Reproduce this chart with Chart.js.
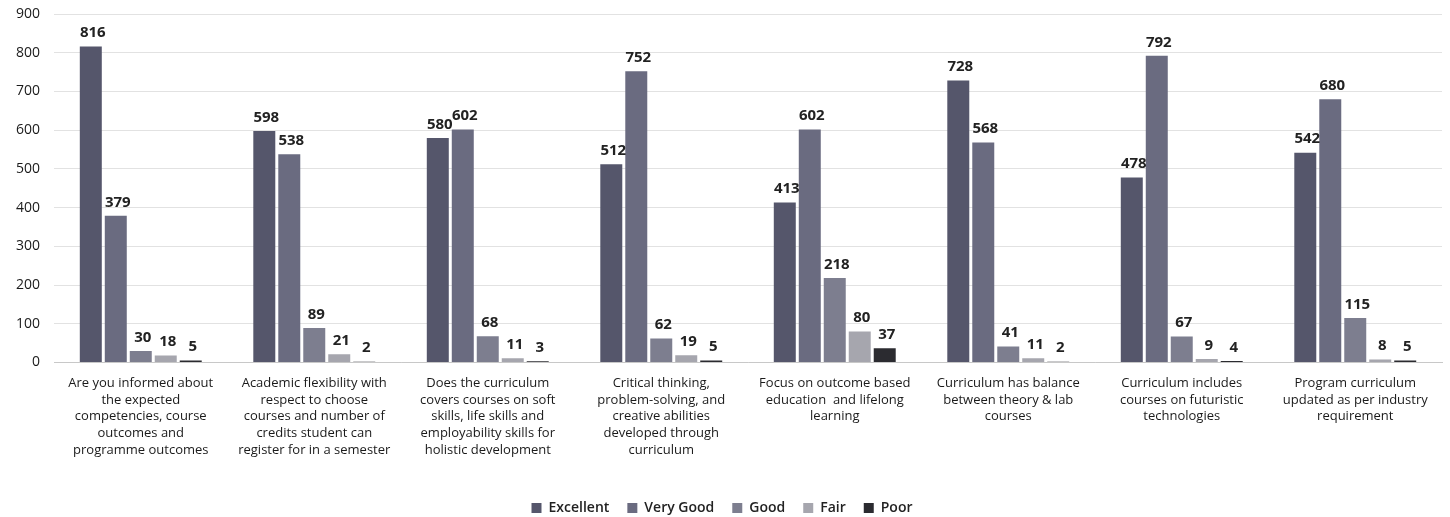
<!DOCTYPE html>
<html><head><meta charset="utf-8">
<script src="https://cdn.jsdelivr.net/npm/chart.js@4/dist/chart.umd.min.js"></script>
<style>html,body{margin:0;padding:0;background:#fff;}canvas{display:block;}</style>
</head><body>
<canvas id="c" width="1450" height="517"></canvas>
<script>
const categories = [
  ["Are you informed about","the expected","competencies, course","outcomes and","programme outcomes"],
  ["Academic flexibility with","respect to choose","courses and number of","credits student can","register for in a semester"],
  ["Does the curriculum","covers courses on soft","skills, life skills and","employability skills for","holistic development"],
  ["Critical thinking,","problem-solving, and","creative abilities","developed through","curriculum"],
  ["Focus on outcome based","education  and lifelong","learning"],
  ["Curriculum has balance","between theory & lab","courses"],
  ["Curriculum includes","courses on futuristic","technologies"],
  ["Program curriculum","updated as per industry","requirement"]
];
const seriesNames = ["Excellent","Very Good","Good","Fair","Poor"];
const excellent = [816, 598, 580, 512, 413, 728, 478, 542];
const veryGood  = [379, 538, 602, 752, 602, 568, 792, 680];
const good      = [30, 89, 68, 62, 218, 41, 67, 115];
const fair      = [18, 21, 11, 19, 80, 11, 9, 8];
const poor      = [5, 2, 3, 5, 37, 2, 4, 5];
const yTicks = [0,100,200,300,400,500,600,700,800,900];

const colors = ["#55566b","#6a6b80","#7d7e8f","#a6a6ae","#2b2b30"];
const seriesValues = [excellent, veryGood, good, fair, poor];

const labelPlugin = {
  id: 'valueLabels',
  afterDatasetsDraw(chart) {
    const ctx = chart.ctx;
    ctx.save();
    ctx.font = "bold 15px 'Open Sans', 'DejaVu Sans', sans-serif";
    ctx.fillStyle = "#222";
    ctx.textAlign = "center";
    ctx.textBaseline = "bottom";
    chart.data.datasets.forEach((ds, i) => {
      const meta = chart.getDatasetMeta(i);
      meta.data.forEach((el, j) => {
        ctx.fillText(String(ds.data[j]), el.x + 2, el.y - 6);
      });
    });
    ctx.restore();
  }
};

new Chart(document.getElementById('c'), {
  type: 'bar',
  data: {
    labels: categories,
    datasets: seriesNames.map((n, i) => ({
      label: n,
      data: seriesValues[i],
      backgroundColor: colors[i],
      borderWidth: 0,
      categoryPercentage: 0.72,
      barPercentage: 0.88
    }))
  },
  options: {
    responsive: false,
    devicePixelRatio: 1,
    animation: false,
    layout: { padding: { top: 14, right: 8, left: 2, bottom: -8 } },
    plugins: {
      legend: {
        position: 'bottom',
        labels: {
          boxWidth: 10, boxHeight: 10, padding: 18,
          color: '#222',
          font: { size: 14, weight: '600', family: "'Open Sans', sans-serif" }
        }
      },
      tooltip: { enabled: false }
    },
    scales: {
      x: {
        grid: { display: false, drawTicks: false },
        border: { display: true, color: '#c8c8c8', width: 1 },
        afterFit(axis) { axis.height += 12; },
        ticks: {
          color: '#1a1a1a',
          maxRotation: 0, autoSkip: false,
          padding: 12,
          font: { size: 13, family: "'Open Sans', sans-serif", lineHeight: 1.3 }
        }
      },
      y: {
        min: 0, max: 900,
        afterBuildTicks(axis) { axis.ticks = yTicks.map(v => ({ value: v })); },
        afterFit(axis) { axis.paddingTop = 0; },
        grid: { color: '#e2e2e2', drawTicks: false },
        border: { display: false },
        ticks: {
          color: '#1a1a1a',
          padding: 14,
          font: { size: 14, family: "'Open Sans', sans-serif" }
        }
      }
    }
  },
  plugins: [labelPlugin]
});
</script>
</body></html>
